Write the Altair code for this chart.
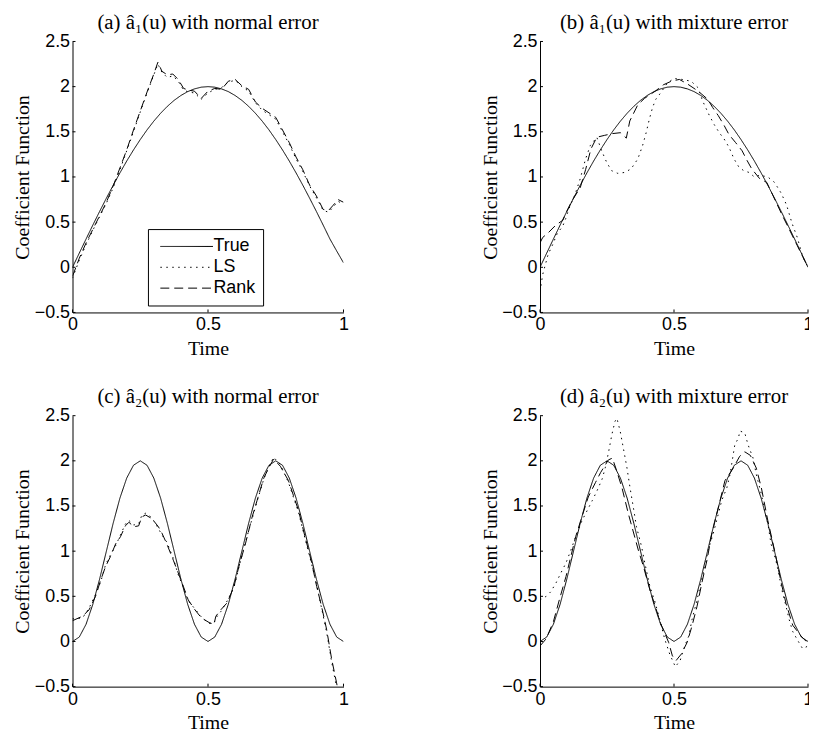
import altair as alt
import pandas as pd

SERIES = ["True", "LS", "Rank"]
X_TICKS = [0, 0.5, 1]
Y_TICKS = [-0.5, 0, 0.5, 1, 1.5, 2, 2.5]

TRUE_U = [0, 0.025, 0.05, 0.075, 0.1, 0.125, 0.15, 0.175, 0.2, 0.225, 0.25, 0.275, 0.3, 0.325, 0.35,
          0.375, 0.4, 0.425, 0.45, 0.475, 0.5, 0.525, 0.55, 0.575, 0.6, 0.625, 0.65, 0.675, 0.7, 0.725,
          0.75, 0.775, 0.8, 0.825, 0.85, 0.875, 0.9, 0.925, 0.95, 0.975, 1.0]
TRUE_A1_N = [0, 0.157, 0.313, 0.467, 0.618, 0.765, 0.908, 1.045, 1.176, 1.299, 1.414, 1.521, 1.618, 1.705,
             1.782, 1.848, 1.902, 1.945, 1.975, 1.994, 2.0, 1.994, 1.975, 1.945, 1.902, 1.848, 1.782, 1.705,
             1.618, 1.521, 1.414, 1.299, 1.176, 1.045, 0.908, 0.765, 0.618, 0.467, 0.313, 0.18, 0.05]
TRUE_A1_M = [0, 0.157, 0.313, 0.467, 0.618, 0.765, 0.908, 1.045, 1.176, 1.299, 1.414, 1.521, 1.618, 1.705,
             1.782, 1.848, 1.902, 1.945, 1.975, 1.994, 2.0, 1.994, 1.975, 1.945, 1.902, 1.848, 1.782, 1.705,
             1.618, 1.521, 1.414, 1.299, 1.176, 1.045, 0.908, 0.765, 0.618, 0.467, 0.313, 0.157, 0.0]
TRUE_A2 = [0, 0.049, 0.191, 0.412, 0.691, 1.0, 1.309, 1.588, 1.809, 1.951, 2.0, 1.951, 1.809, 1.588, 1.309,
           1.0, 0.691, 0.412, 0.191, 0.049, 0.0, 0.049, 0.191, 0.412, 0.691, 1.0, 1.309, 1.588, 1.809, 1.951,
           2.0, 1.951, 1.809, 1.588, 1.309, 1.0, 0.691, 0.412, 0.191, 0.049, 0.0]

# (a) a1, normal error
A_U = [0, 0.025, 0.05, 0.075, 0.1, 0.125, 0.15, 0.175, 0.2, 0.225, 0.25, 0.275, 0.3, 0.315, 0.33, 0.35,
       0.37, 0.39, 0.41, 0.43, 0.45, 0.475, 0.5, 0.525, 0.55, 0.575, 0.6, 0.625, 0.65, 0.675, 0.7, 0.725,
       0.75, 0.775, 0.8, 0.825, 0.85, 0.875, 0.9, 0.925, 0.945, 0.96, 0.98, 1.0]
A_RANK = [-0.1, 0.1, 0.27, 0.42, 0.57, 0.72, 0.9, 1.1, 1.3, 1.52, 1.73, 1.94, 2.14, 2.27, 2.17, 2.13,
          2.14, 2.08, 1.98, 1.96, 1.95, 1.87, 1.95, 1.98, 1.97, 2.06, 2.08, 2.01, 1.97, 1.83, 1.76, 1.71,
          1.66, 1.52, 1.38, 1.22, 1.08, 0.91, 0.79, 0.64, 0.63, 0.68, 0.75, 0.72]
A_LS = [-0.12, 0.08, 0.25, 0.41, 0.56, 0.71, 0.88, 1.08, 1.29, 1.5, 1.72, 1.93, 2.13, 2.25, 2.16, 2.1,
        2.12, 2.06, 1.96, 1.94, 1.93, 1.86, 1.93, 1.97, 1.99, 2.05, 2.07, 2.0, 1.95, 1.82, 1.74, 1.69,
        1.64, 1.5, 1.36, 1.2, 1.06, 0.9, 0.77, 0.63, 0.61, 0.66, 0.73, 0.7]

# (b) a1, mixture error
B_RANK_U = [0, 0.01, 0.03, 0.06, 0.085, 0.1, 0.12, 0.15, 0.17, 0.19, 0.212, 0.24, 0.27, 0.3, 0.322,
            0.335, 0.365, 0.39, 0.43, 0.46, 0.49, 0.52, 0.55, 0.59, 0.626, 0.644, 0.665, 0.687, 0.705,
            0.73, 0.754, 0.773, 0.79, 0.82, 0.846, 0.87, 0.9, 0.93, 0.96, 0.98, 1.0]
B_RANK = [0.27, 0.33, 0.38, 0.47, 0.52, 0.62, 0.74, 0.88, 1.08, 1.31, 1.44, 1.46, 1.48, 1.49, 1.43,
          1.62, 1.8, 1.87, 1.95, 2.02, 2.06, 2.08, 2.03, 1.95, 1.86, 1.77, 1.68, 1.57, 1.47, 1.38,
          1.29, 1.18, 1.09, 0.98, 0.94, 0.79, 0.6, 0.42, 0.24, 0.12, 0.0]
B_LS_U = [0, 0.01, 0.03, 0.047, 0.065, 0.084, 0.096, 0.108, 0.13, 0.15, 0.17, 0.188, 0.212, 0.23, 0.249,
          0.267, 0.29, 0.316, 0.34, 0.365, 0.383, 0.396, 0.408, 0.42, 0.432, 0.45, 0.475, 0.5, 0.53, 0.564,
          0.589, 0.607, 0.632, 0.65, 0.669, 0.687, 0.705, 0.724, 0.742, 0.76, 0.78, 0.8, 0.82, 0.85, 0.875,
          0.9, 0.92, 0.94, 0.96, 0.98, 1.0]
B_LS = [-0.27, -0.08, 0.14, 0.25, 0.38, 0.45, 0.54, 0.65, 0.8, 0.98, 1.2, 1.35, 1.44, 1.29, 1.16,
        1.07, 1.04, 1.05, 1.09, 1.2, 1.35, 1.49, 1.64, 1.77, 1.86, 1.93, 2.04, 2.09, 2.08, 2.06,
        1.99, 1.84, 1.68, 1.58, 1.49, 1.42, 1.33, 1.2, 1.11, 1.07, 1.05, 1.0, 1.02, 1.0, 0.94,
        0.82, 0.69, 0.49, 0.33, 0.12, 0.0]

# (c) a2, normal error
C_U = [0, 0.037, 0.061, 0.085, 0.104, 0.122, 0.14, 0.159, 0.177, 0.195, 0.208, 0.226, 0.244, 0.256, 0.27,
       0.293, 0.317, 0.33, 0.348, 0.372, 0.39, 0.409, 0.427, 0.452, 0.476, 0.504, 0.522, 0.529, 0.547, 0.571,
       0.596, 0.614, 0.638, 0.663, 0.681, 0.706, 0.724, 0.742, 0.767, 0.797, 0.834, 0.858, 0.883, 0.901,
       0.919, 0.938, 0.956, 0.974, 1.0]
C_RANK = [0.23, 0.28, 0.35, 0.5, 0.68, 0.83, 0.94, 1.08, 1.16, 1.28, 1.32, 1.27, 1.28, 1.38, 1.4,
          1.36, 1.27, 1.2, 1.08, 0.9, 0.76, 0.61, 0.46, 0.35, 0.26, 0.21, 0.19, 0.28, 0.35, 0.43,
          0.61, 0.83, 1.08, 1.38, 1.56, 1.81, 1.92, 2.02, 1.94, 1.78, 1.45, 1.16, 0.87, 0.61,
          0.39, 0.13, -0.19, -0.45, -0.85]
C_LS = [0.25, 0.26, 0.37, 0.52, 0.66, 0.85, 0.96, 1.06, 1.18, 1.3, 1.34, 1.29, 1.3, 1.4, 1.42,
        1.37, 1.25, 1.18, 1.1, 0.92, 0.74, 0.6, 0.45, 0.36, 0.27, 0.2, 0.2, 0.26, 0.33, 0.45,
        0.6, 0.82, 1.1, 1.36, 1.55, 1.8, 1.93, 2.04, 1.96, 1.76, 1.43, 1.14, 0.85, 0.63,
        0.37, 0.1, -0.22, -0.5, -0.9]

# (d) a2, mixture error
D_RANK_U = [0, 0.023, 0.05, 0.072, 0.097, 0.115, 0.133, 0.152, 0.18, 0.207, 0.226, 0.255, 0.27, 0.285,
            0.306, 0.33, 0.367, 0.386, 0.41, 0.43, 0.45, 0.48, 0.494, 0.508, 0.527, 0.549, 0.567, 0.586,
            0.604, 0.623, 0.641, 0.666, 0.69, 0.721, 0.745, 0.764, 0.785, 0.807, 0.826, 0.85, 0.875,
            0.9, 0.918, 0.943, 0.974, 1.0]
D_RANK = [-0.05, 0.03, 0.22, 0.46, 0.72, 0.94, 1.16, 1.34, 1.6, 1.76, 1.87, 2.01, 2.03, 1.9,
          1.7, 1.41, 1.01, 0.83, 0.57, 0.39, 0.2, -0.01, -0.16, -0.21, -0.14, -0.01, 0.17, 0.39,
          0.65, 0.9, 1.19, 1.49, 1.78, 1.92, 2.05, 2.1, 2.06, 1.92, 1.7, 1.34, 1.01,
          0.65, 0.42, 0.18, 0.06, -0.02]
D_LS_U = [0, 0.023, 0.04, 0.06, 0.078, 0.097, 0.115, 0.133, 0.157, 0.176, 0.195, 0.213, 0.232, 0.244,
          0.256, 0.268, 0.28, 0.287, 0.299, 0.311, 0.324, 0.336, 0.348, 0.36, 0.379, 0.391, 0.41, 0.43,
          0.447, 0.465, 0.484, 0.505, 0.523, 0.54, 0.555, 0.567, 0.586, 0.6, 0.616, 0.627, 0.646, 0.666,
          0.678, 0.697, 0.709, 0.721, 0.727, 0.74, 0.746, 0.764, 0.776, 0.795, 0.807, 0.826, 0.838,
          0.85, 0.862, 0.88, 0.893, 0.905, 0.918, 0.93, 0.943, 0.96, 0.98, 1.0]
D_LS = [0.46, 0.5, 0.55, 0.65, 0.76, 0.87, 1.01, 1.16, 1.34, 1.45, 1.56, 1.67, 1.8, 1.93,
        2.1, 2.29, 2.44, 2.47, 2.33, 2.14, 1.93, 1.7, 1.49, 1.27, 1.05, 0.87, 0.61, 0.43,
        0.24, 0.03, -0.14, -0.28, -0.21, -0.05, 0.06, 0.24, 0.46, 0.65, 0.83, 1.01, 1.19, 1.42,
        1.56, 1.7, 1.85, 2.07, 2.18, 2.25, 2.33, 2.31, 2.18, 2.03, 1.85, 1.63, 1.45,
        1.31, 1.08, 0.9, 0.72, 0.54, 0.39, 0.24, 0.11, 0.02, -0.08, -0.05]

TITLES = ["(a) â\u2081(u) with normal error", "(b) â\u2081(u) with mixture error",
          "(c) â\u2082(u) with normal error", "(d) â\u2082(u) with mixture error"]

SANS = "Liberation Sans"
SERIF = "Liberation Serif"
DASHES = [[1, 0], [1.5, 4.5], [9, 5]]
PANEL_H = 273


def make_df(tu, tv, lu, lv, ru, rv):
    rows = []
    for name, us, vs in (("True", tu, tv), ("LS", lu, lv), ("Rank", ru, rv)):
        for u, v in zip(us, vs):
            rows.append({"u": u, "v": v, "series": name})
    return pd.DataFrame(rows)


def panel(df, title, width, show_legend):
    h = PANEL_H
    xscale = alt.Scale(domain=[0, 1], nice=False, zero=False)
    yscale = alt.Scale(domain=[-0.5, 2.5], nice=False, zero=False)
    if show_legend:
        legend = alt.Legend(title=None, orient="none", legendX=76, legendY=189,
                            symbolType="stroke", symbolSize=2809, symbolStrokeWidth=1,
                            symbolStrokeColor="black", clipHeight=21, rowPadding=0,
                            padding=7, symbolOffset=5, labelOffset=0, labelFont=SANS,
                            labelFontSize=18, labelColor="black", strokeColor="black",
                            fillColor="white", cornerRadius=0)
    else:
        legend = None
    xaxis = alt.Axis(values=X_TICKS, format="~g", title="Time", labelPadding=3.5, titlePadding=5,
                     labelFlush=False)
    yaxis = alt.Axis(values=Y_TICKS, format="~g", title="Coefficient Function",
                     labelPadding=3, titlePadding=1.5)
    lines = alt.Chart(df).mark_line(clip=True, color="black", strokeWidth=1).encode(
        x=alt.X("u:Q", scale=xscale, axis=xaxis),
        y=alt.Y("v:Q", scale=yscale, axis=yaxis),
        strokeDash=alt.StrokeDash("series:N", scale=alt.Scale(domain=SERIES, range=DASHES),
                                  sort=SERIES, legend=legend),
        order=alt.Order("u:Q"),
    )
    yt = alt.Chart(pd.DataFrame({"t": Y_TICKS})).mark_rule(color="black", strokeWidth=1).encode(
        y=alt.Y("t:Q", scale=yscale, axis=yaxis), x=alt.value(0), x2=alt.value(3))
    xt = alt.Chart(pd.DataFrame({"t": X_TICKS})).mark_rule(color="black", strokeWidth=1).encode(
        x=alt.X("t:Q", scale=xscale, axis=xaxis), y=alt.value(h), y2=alt.value(h - 3))
    return alt.layer(lines, yt, xt).properties(
        width=width, height=h,
        title=alt.TitleParams(text=title, font=SERIF, fontSize=21, fontWeight="normal",
                              anchor="middle", baseline="alphabetic", offset=-17, color="black"),
    )


pa = panel(make_df(TRUE_U, TRUE_A1_N, A_U, A_LS, A_U, A_RANK), TITLES[0], 273, True)
pb = panel(make_df(TRUE_U, TRUE_A1_M, B_LS_U, B_LS, B_RANK_U, B_RANK), TITLES[1], 270, False)
pc = panel(make_df(TRUE_U, TRUE_A2, C_U, C_LS, C_U, C_RANK), TITLES[2], 273, False)
pd_ = panel(make_df(TRUE_U, TRUE_A2, D_LS_U, D_LS, D_RANK_U, D_RANK), TITLES[3], 270, False)

top = alt.hconcat(pa, pb, spacing=131).resolve_scale(strokeDash="independent").resolve_legend(strokeDash="independent")
bottom = alt.hconcat(pc, pd_, spacing=131).resolve_scale(strokeDash="independent").resolve_legend(strokeDash="independent")

# the right-hand panels run to the picture edge, as in the source image (their "1" label is cut there)
chart = alt.vconcat(top, bottom, spacing=27).resolve_scale(
    strokeDash="independent").resolve_legend(strokeDash="independent").properties(
    padding={"left": 4, "top": 1, "right": -5, "bottom": 0}
).configure_view(stroke=None).configure_axis(
    domainColor="black", domainWidth=1, labelColor="black", titleColor="black", grid=False,
    ticks=False, tickSize=0, labelFont=SANS, labelFontSize=18, titleFont=SERIF, titleFontSize=20,
    titleFontWeight="normal"
)

chart.save("out.html", embed_options={"renderer": "svg", "actions": False})
